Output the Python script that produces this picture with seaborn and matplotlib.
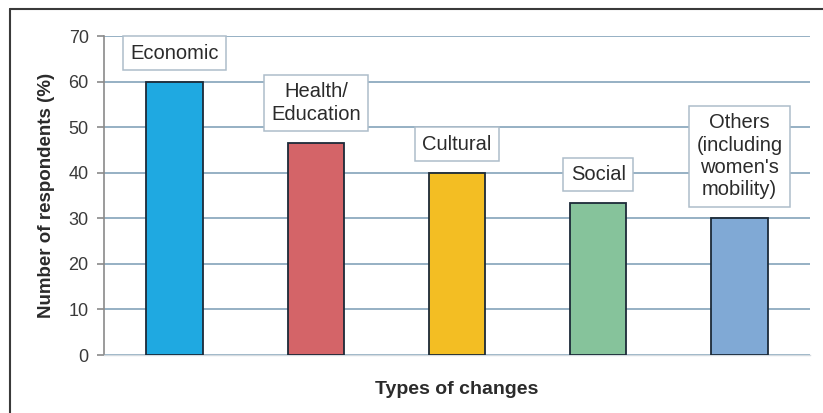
import matplotlib
matplotlib.use("Agg")
import matplotlib.pyplot as plt
from matplotlib.lines import Line2D
import seaborn as sns
import pandas as pd

# Share of respondents reporting each type of change
categories = ["Economic", "Health/Education", "Cultural", "Social", "Others"]
box_labels = ["Economic", "Health/\nEducation", "Cultural", "Social",
              "Others\n(including\nwomen's\nmobility)"]
values = [60.0, 46.6, 40.0, 33.4, 30.0]
bar_colors = ["#1fa9e1", "#d46468", "#f3be23", "#86c39b", "#80a9d5"]
y_ticks = [0, 10, 20, 30, 40, 50, 60, 70]

df = pd.DataFrame({"change": categories, "pct": values})

sns.set_style("white")
plt.rcParams["font.family"] = ["Liberation Sans", "DejaVu Sans"]

fig = plt.figure(figsize=(8.23, 4.13), dpi=100)
ax = fig.add_axes([0.1264, 0.1404, 0.8578, 0.7724])

sns.barplot(data=df, x="change", y="pct", hue="change", palette=bar_colors,
            saturation=1, width=0.4, edgecolor="#1c2a38", linewidth=1.3,
            legend=False, ax=ax, zorder=3)

ax.set_ylim(0, 70)
ax.set_yticks(y_ticks)
ax.set_xticks([])
ax.set_xlim(-0.5, 4.5)

# horizontal gridlines
ax.grid(axis="y", color="#8eaabf", linewidth=1.3, zorder=0)
ax.set_axisbelow(True)

for side in ["top", "right"]:
    ax.spines[side].set_visible(False)
ax.spines["left"].set_color("#8a8a8a")
ax.spines["left"].set_linewidth(1.2)
ax.spines["bottom"].set_color("#d5dbe0")
ax.spines["bottom"].set_linewidth(1.0)

ax.tick_params(axis="y", direction="out", length=5, width=1.2, color="#8a8a8a",
               pad=6, labelsize=13, labelcolor="#3a3a3a", left=True)

ax.set_ylabel("Number of respondents (%)", fontsize=13.5, fontweight="bold",
              color="#2b2b2b", labelpad=10)
ax.set_xlabel("Types of changes", fontsize=14, fontweight="bold",
              color="#2b2b2b", labelpad=19)

# boxed category labels above each bar
for i, (lab, v) in enumerate(zip(box_labels, values)):
    ax.annotate(lab, xy=(i, v), xytext=(0, 19), textcoords="offset pixels",
                ha="center", va="bottom", fontsize=14.5, color="#2b2b2b",
                linespacing=1.22, zorder=5,
                bbox=dict(boxstyle="square,pad=0.36", facecolor="white",
                          edgecolor="#aebdca", linewidth=1.1))

# outer frame lines (top and left)
fig.add_artist(Line2D([10 / 823, 1.0], [1 - 9 / 413, 1 - 9 / 413],
                      transform=fig.transFigure, color="#3a3a3a", linewidth=1.5))
fig.add_artist(Line2D([10 / 823, 10 / 823], [0.0, 1 - 9 / 413],
                      transform=fig.transFigure, color="#3a3a3a", linewidth=1.5))

fig.savefig("out.png", dpi=100, facecolor="white")
